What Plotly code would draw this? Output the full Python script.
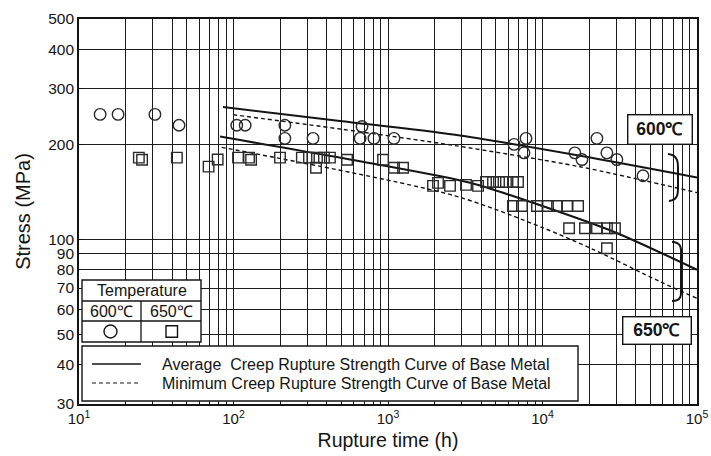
import plotly.graph_objects as go

# ---- Creep rupture test results: rupture time (h) and applied stress (MPa) ----
t600 = [13.7, 17.9, 31, 44.4, 105, 119, 215, 215, 327, 679, 660, 811, 1093,
        6550, 7820, 7590, 22500, 16200, 18000, 26100, 30300, 44700]
s600 = [249, 249, 249, 230, 230, 230, 230, 209, 209, 228, 209, 209, 209,
        200, 209, 188, 209, 188, 179, 188, 179, 159]

t650 = [24.4, 25.6, 43, 69, 79, 107, 126, 130, 200, 277, 308, 342, 347, 385, 421,
        543, 929, 1094, 1251, 1955, 2107, 2520, 3198, 3826, 4310, 4783, 5230, 5800,
        6440, 6940, 6440, 7360, 9210, 10850, 12420, 14420, 16990, 14860, 18840,
        22530, 26130, 29440, 26130]
s650 = [181.5, 178.8, 181.5, 170, 179, 181.5, 181.5, 178.8, 181.5, 181.5, 181.5,
        168.6, 181.5, 181.5, 181.5, 178.8, 178.8, 168.6, 168.6, 147.7, 151, 147.7,
        148.8, 147.7, 152, 152, 152, 152, 152, 152, 127.5, 127.5, 127.5, 127.5,
        127.5, 127.5, 127.5, 108.4, 108.4, 108.4, 108.4, 108.4, 93.6]

# ---- Creep rupture strength curves of the base metal ----
avg600_t = [85.5, 489, 2716, 17500, 100000]
avg600_s = [262.7, 237.4, 214.5, 184, 157]
min600_t = [99.3, 489, 2716, 17500, 100000]
min600_s = [248.5, 223.8, 198.2, 169.8, 140.6]
avg650_t = [81.8, 824, 3396, 12360, 30200, 100000]
avg650_s = [211.8, 173.3, 151, 122.9, 104.7, 80.0]
min650_t = [83.9, 2716, 10070, 21200, 57500, 100000]
min650_s = [195.7, 137.3, 108.7, 92.9, 73.4, 64.9]

# ---- Axis ticks ----
x_ticks = [k * 10 ** n for n in range(1, 5) for k in range(1, 10)] + [10 ** 5]
x_text = ["10<sup>%d</sup>" % n if k == 1 else "" for n in range(1, 5) for k in range(1, 10)] + ["10<sup>5</sup>"]
y_ticks = [30, 40, 50, 60, 70, 80, 90, 100, 200, 300, 400, 500]
y_text = [str(v) for v in y_ticks]

FONT = "Liberation Sans, Arial, Helvetica, sans-serif"
INK = "#141414"

fig = go.Figure()

def curve(t, s, dashed):
    fig.add_trace(go.Scatter(
        x=t, y=s, mode="lines", showlegend=False, hoverinfo="skip",
        line=dict(color=INK, width=1.4 if dashed else 2.1,
                  dash="4px,3px" if dashed else "solid", shape="spline", smoothing=0.8)))

curve(avg600_t, avg600_s, False)
curve(min600_t, min600_s, True)
curve(avg650_t, avg650_s, False)
curve(min650_t, min650_s, True)

fig.add_trace(go.Scatter(x=t600, y=s600, mode="markers", showlegend=False,
                         marker=dict(symbol="circle-open", size=11.5, color="#2a2a2a",
                                     line=dict(width=1.4, color="#2a2a2a"))))
fig.add_trace(go.Scatter(x=t650, y=s650, mode="markers", showlegend=False,
                         marker=dict(symbol="square-open", size=10.5, color="#2a2a2a",
                                     line=dict(width=1.4, color="#2a2a2a"))))

# plot-area pixel -> paper fraction helpers (plot area spans 79..697 x 19..404)
L, R, T, B = 79, 697, 19, 404
def px(x):
    return (x - L) / (R - L)
def py(y):
    return (B - y) / (B - T)

shapes = []
annos = []

# temperature symbol table
tx0, tx1, tmid = 82, 201, 141
ty0, ty1, ty2, ty3 = 280, 301, 321, 342
shapes.append(dict(type="rect", xref="paper", yref="paper", x0=px(tx0), x1=px(tx1),
                   y0=py(ty3), y1=py(ty0), line=dict(color=INK, width=1.4),
                   fillcolor="white", layer="above"))
for yy in (ty1, ty2):
    shapes.append(dict(type="line", xref="paper", yref="paper", x0=px(tx0), x1=px(tx1),
                       y0=py(yy), y1=py(yy), line=dict(color=INK, width=1.3)))
shapes.append(dict(type="line", xref="paper", yref="paper", x0=px(tmid), x1=px(tmid),
                   y0=py(ty3), y1=py(ty1), line=dict(color=INK, width=1.3)))
annos.append(dict(text="Temperature", x=px((tx0 + tx1) / 2), y=py((ty0 + ty1) / 2)))
annos.append(dict(text="600℃", x=px((tx0 + tmid) / 2), y=py((ty1 + ty2) / 2)))
annos.append(dict(text="650℃", x=px((tmid + tx1) / 2), y=py((ty1 + ty2) / 2)))
cy = (ty2 + ty3) / 2
shapes.append(dict(type="circle", xref="paper", yref="paper", x0=px(104), x1=px(117),
                   y0=py(cy + 6.5), y1=py(cy - 6.5), line=dict(color=INK, width=1.4)))
shapes.append(dict(type="rect", xref="paper", yref="paper", x0=px(166), x1=px(177.5),
                   y0=py(cy + 5.75), y1=py(cy - 5.75), line=dict(color=INK, width=1.4)))

# curve-style key
lx0, lx1, ly0, ly1 = 82, 578, 346, 401
shapes.append(dict(type="rect", xref="paper", yref="paper", x0=px(lx0), x1=px(lx1),
                   y0=py(ly1), y1=py(ly0), line=dict(color=INK, width=1.4),
                   fillcolor="white", layer="above"))
shapes.append(dict(type="line", xref="paper", yref="paper", x0=px(92), x1=px(141),
                   y0=py(364), y1=py(364), line=dict(color=INK, width=1.4)))
shapes.append(dict(type="line", xref="paper", yref="paper", x0=px(92), x1=px(141),
                   y0=py(383), y1=py(383), line=dict(color=INK, width=1.2, dash="4px,3px")))
for txt, yy in (("Average  Creep Rupture Strength Curve of Base Metal", 364),
                ("Minimum Creep Rupture Strength Curve of Base Metal", 383)):
    annos.append(dict(text=txt, x=px(160), y=py(yy), xanchor="left"))

# braces grouping the two curves of each temperature
shapes.append(dict(type="path", xref="paper", yref="paper", line=dict(color=INK, width=2),
                   path="M %f,%f C %f,%f %f,%f %f,%f L %f,%f C %f,%f %f,%f %f,%f" % (
                       px(668), py(154), px(679), py(155), px(678), py(164), px(678), py(171),
                       px(678), py(184), px(678), py(192), px(679), py(200), px(669), py(201))))
shapes.append(dict(type="path", xref="paper", yref="paper", line=dict(color=INK, width=2),
                   path="M %f,%f C %f,%f %f,%f %f,%f L %f,%f C %f,%f %f,%f %f,%f" % (
                       px(672), py(242), px(683), py(242), px(681), py(251), px(681), py(258),
                       px(681), py(286), px(681), py(293), px(683), py(301), px(672), py(301))))

for a in annos:
    a.update(xref="paper", yref="paper", showarrow=False, yanchor="middle",
             font=dict(family=FONT, size=16, color=INK))
    a.setdefault("xanchor", "center")

# temperature labels beside the curves
annos.append(dict(text="<b>600℃</b>", xref="paper", yref="paper", x=px(660), y=py(129.5),
                  xanchor="center", yanchor="middle",
                  showarrow=False, font=dict(family=FONT, size=17.5, color=INK),
                  bgcolor="white", bordercolor=INK, borderwidth=1.4, borderpad=0,
                  width=63, height=28))
annos.append(dict(text="<b>650℃</b>", xref="paper", yref="paper", x=px(656.5), y=py(330),
                  xanchor="center", yanchor="middle",
                  showarrow=False, font=dict(family=FONT, size=17.5, color=INK),
                  bgcolor="white", bordercolor=INK, borderwidth=1.4, borderpad=0,
                  width=67, height=26))

fig.update_layout(
    template="none",
    width=711, height=456,
    margin=dict(l=L, r=711 - R, t=T, b=456 - B, autoexpand=False),
    paper_bgcolor="white", plot_bgcolor="white",
    font=dict(family=FONT, color=INK),
    shapes=shapes, annotations=annos,
)
fig.update_xaxes(
    type="log", range=[1, 5], tickvals=x_ticks, ticktext=x_text, automargin=False,
    showgrid=True, gridcolor="#1c1c1c", gridwidth=1.3,
    ticks="inside", ticklen=4, tickcolor=INK,
    showline=True, linecolor=INK, linewidth=1.6, mirror=True,
    tickfont=dict(size=15), zeroline=False,
    title=dict(text="Rupture time (h)", font=dict(size=19.5), standoff=8),
)
fig.update_yaxes(
    type="log", range=[1.4771, 2.69897], tickvals=y_ticks, ticktext=y_text, automargin=False,
    showgrid=True, gridcolor="#1c1c1c", gridwidth=1.3,
    ticks="inside", ticklen=4, tickcolor=INK,
    showline=True, linecolor=INK, linewidth=1.6, mirror=True,
    tickfont=dict(size=15.5), zeroline=False,
    title=dict(text="Stress (MPa)", font=dict(size=20), standoff=12),
)

fig.write_html("out.html")
